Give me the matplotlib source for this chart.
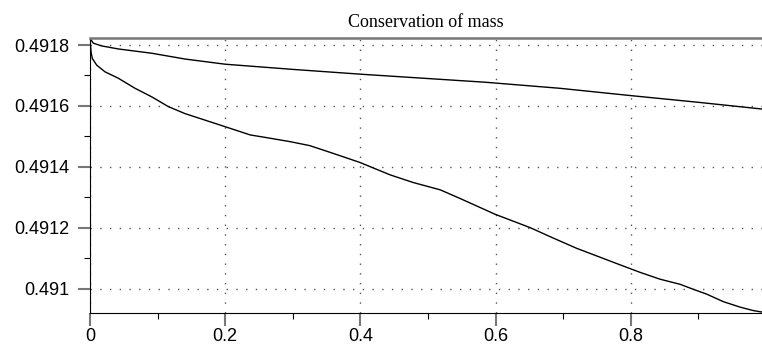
import matplotlib.pyplot as plt
from matplotlib.ticker import MultipleLocator, FuncFormatter

# Сохранение массы: две кривые

x_upper = [0.0, 0.0049, 0.0173, 0.042, 0.0913, 0.1405, 0.2, 0.30, 0.402, 0.50,
           0.584, 0.695, 0.8, 0.90, 0.994]
m_upper = [0.491822, 0.491806, 0.491797, 0.491787, 0.491773, 0.491754, 0.491737,
           0.491720, 0.491704, 0.491690, 0.491678, 0.491658, 0.491634, 0.491612,
           0.491590]

x_lower = [0.0, 0.0015, 0.0034, 0.0099, 0.0222, 0.0419, 0.0666, 0.0913, 0.1158,
           0.1405, 0.2, 0.237, 0.259, 0.296, 0.325, 0.355, 0.399, 0.444, 0.478,
           0.518, 0.547, 0.599, 0.651, 0.685, 0.720, 0.784, 0.814, 0.843, 0.873,
           0.892, 0.912, 0.937, 0.962, 0.981, 0.994]
m_lower = [0.491822, 0.491778, 0.491756, 0.491734, 0.491712, 0.491691, 0.491658,
           0.491630, 0.491598, 0.491575, 0.491532, 0.491505, 0.491497, 0.491483,
           0.491470, 0.491448, 0.491415, 0.491374, 0.491349, 0.491325, 0.491297,
           0.491245, 0.491201, 0.491167, 0.491133, 0.491079, 0.491054, 0.491032,
           0.491015, 0.490999, 0.490983, 0.490958, 0.490940, 0.490929, 0.490924]

plt.rcParams['font.family'] = ['Liberation Sans', 'DejaVu Sans']

fig = plt.figure(figsize=(7.62, 3.46), dpi=100)
ax = fig.add_axes([0.1181, 0.0954, 0.8819, 0.7948])

ax.plot(x_upper, m_upper, color='black', lw=1)
ax.plot(x_lower, m_lower, color='black', lw=1)

ax.set_xlim(0, 0.994)
ax.set_ylim(0.490921, 0.491823)

ax.xaxis.set_major_locator(MultipleLocator(0.2))
ax.xaxis.set_minor_locator(MultipleLocator(0.1))
ax.yaxis.set_major_locator(MultipleLocator(0.0002))
ax.yaxis.set_minor_locator(MultipleLocator(0.0001))
ax.xaxis.set_major_formatter(FuncFormatter(lambda v, p: '0' if abs(v) < 1e-9 else f'{v:g}'))
ax.yaxis.set_major_formatter(FuncFormatter(lambda v, p: f'{v:.4f}'.rstrip('0')))

ax.tick_params(which='major', direction='out', length=9, width=1.5,
               color='#777777', labelsize=13)
ax.tick_params(which='minor', direction='out', length=4, width=0.8, color='black')
ax.tick_params(axis='x', which='major', pad=1.5)
ax.tick_params(axis='y', which='major', pad=6)

ax.grid(True, which='major', color='#555555', linestyle=(0, (1, 6)), lw=1)

ax.spines['right'].set_visible(False)
ax.spines['top'].set_color('#777777')
ax.spines['top'].set_linewidth(1.8)

ax.set_title('Conservation of mass', fontfamily='Liberation Serif', fontsize=13, pad=8)

plt.savefig('out.png', dpi=100)
